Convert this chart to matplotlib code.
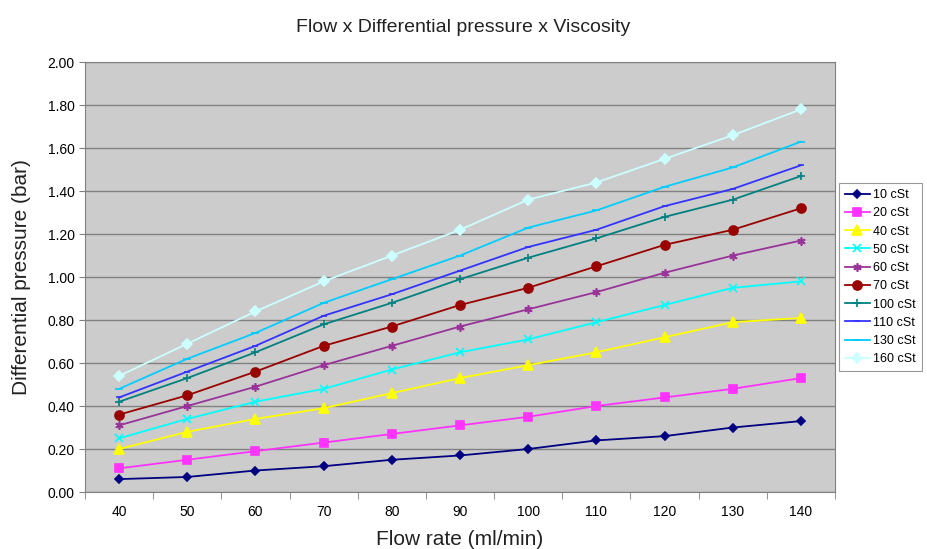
import numpy as np
import matplotlib
matplotlib.use("Agg")
import matplotlib.pyplot as plt

plt.rcParams['font.family'] = ['Liberation Sans', 'DejaVu Sans']

flow = [40, 50, 60, 70, 80, 90, 100, 110, 120, 130, 140]

labels = ['10 cSt', '20 cSt', '40 cSt', '50 cSt', '60 cSt', '70 cSt',
          '100 cSt', '110 cSt', '130 cSt', '160 cSt']

p10 = [0.06, 0.07, 0.10, 0.12, 0.15, 0.17, 0.20, 0.24, 0.26, 0.30, 0.33]
p20 = [0.11, 0.15, 0.19, 0.23, 0.27, 0.31, 0.35, 0.40, 0.44, 0.48, 0.53]
p40 = [0.20, 0.28, 0.34, 0.39, 0.46, 0.53, 0.59, 0.65, 0.72, 0.79, 0.81]
p50 = [0.25, 0.34, 0.42, 0.48, 0.57, 0.65, 0.71, 0.79, 0.87, 0.95, 0.98]
p60 = [0.31, 0.40, 0.49, 0.59, 0.68, 0.77, 0.85, 0.93, 1.02, 1.10, 1.17]
p70 = [0.36, 0.45, 0.56, 0.68, 0.77, 0.87, 0.95, 1.05, 1.15, 1.22, 1.32]
p100 = [0.42, 0.53, 0.65, 0.78, 0.88, 0.99, 1.09, 1.18, 1.28, 1.36, 1.47]
p110 = [0.44, 0.56, 0.68, 0.82, 0.92, 1.03, 1.14, 1.22, 1.33, 1.41, 1.52]
p130 = [0.48, 0.62, 0.74, 0.88, 0.99, 1.10, 1.23, 1.31, 1.42, 1.51, 1.63]
p160 = [0.54, 0.69, 0.84, 0.98, 1.10, 1.22, 1.36, 1.44, 1.55, 1.66, 1.78]

series = [p10, p20, p40, p50, p60, p70, p100, p110, p130, p160]
colors = ['#000080', '#FF33FF', '#FFFF00', '#00FFFF', '#993399',
          '#990000', '#008080', '#3333FF', '#00CCFF', '#CCFFFF']
markers = ['D', 's', '^', 'x', (6, 2, 0), 'o', '+', '_', '_', 'D']
msizes = [4, 6, 6.5, 6, 6, 6.5, 6, 4, 6, 5]

fig = plt.figure(figsize=(9.27, 5.49), dpi=100)
ax = fig.add_axes([0.0917, 0.1038, 0.809, 0.783])
ax.set_facecolor('#CCCCCC')

x = np.arange(len(flow))
for vals, lab, c, m, ms in zip(series, labels, colors, markers, msizes):
    ax.plot(x, vals, color=c, marker=m, markersize=ms, linewidth=1.3,
            markeredgewidth=1.2, label=lab)

ax.set_xlim(-0.5, len(flow) - 0.5)
ax.set_ylim(0, 2.0)
ax.set_yticks(np.arange(0, 2.01, 0.2))
ax.set_yticklabels([f'{v:.2f}' for v in np.arange(0, 2.01, 0.2)])
ax.set_xticks(x)
ax.set_xticklabels([str(f) for f in flow])
ax.set_xticks(np.arange(-0.5, len(flow), 1.0), minor=True)
ax.tick_params(axis='x', which='major', length=0, pad=9, labelsize=10)
ax.tick_params(axis='x', which='minor', length=5, color='#808080')
ax.tick_params(axis='y', length=4, color='#808080', labelsize=10)

ax.grid(axis='y', color='#808080', linewidth=1.0)
ax.set_axisbelow(True)
for s in ax.spines.values():
    s.set_color('#808080')

ax.set_xlabel('Flow rate (ml/min)', fontsize=15, labelpad=8, color='#222222')
ax.set_ylabel('Differential pressure (bar)', fontsize=15, labelpad=12, color='#222222')
fig.suptitle('Flow x Differential pressure x Viscosity', fontsize=14,
             y=0.965, x=0.5, color='#222222')

leg = fig.legend(loc='center left', bbox_to_anchor=(0.905, 0.495), fontsize=9,
                 frameon=True, fancybox=False, edgecolor='#808080',
                 borderpad=0.45, labelspacing=0.5, handlelength=2.0,
                 handletextpad=0.3, borderaxespad=0)
leg.get_frame().set_linewidth(0.8)

fig.savefig('out.png', dpi=100)
